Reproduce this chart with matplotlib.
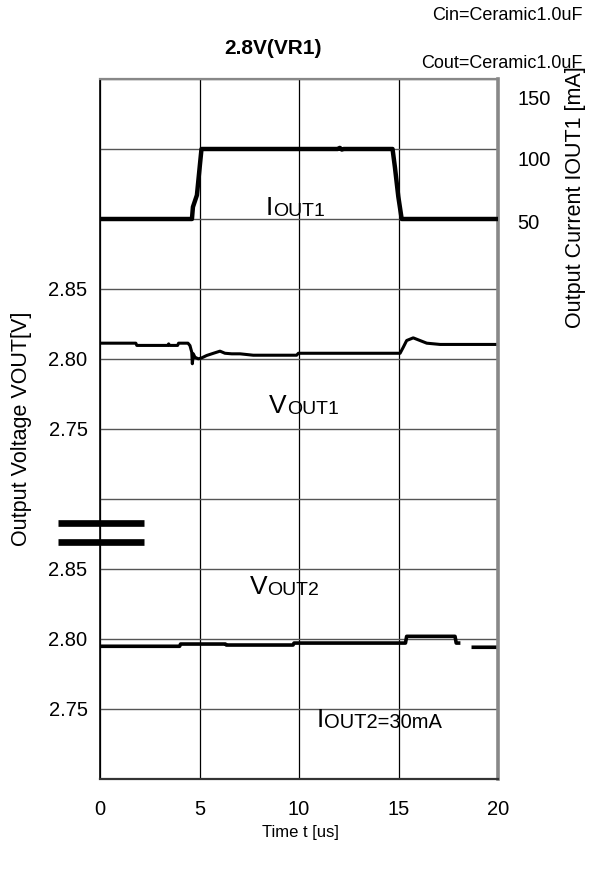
#!/usr/bin/env python3

import matplotlib

matplotlib.use("Agg")
import matplotlib.pyplot as plt
import matplotlib.transforms as mtransforms
import numpy as np

plt.rcParams["font.family"] = ["Liberation Sans", "DejaVu Sans"]

# time axis [us]
t_ticks = [0, 5, 10, 15, 20]

# IOUT1 load step [mA]
iout1_t = [0.0, 4.62, 4.67, 4.87, 5.03, 5.10, 11.95, 12.05, 12.15, 12.25, 14.70, 14.82, 14.99, 15.16, 20.0]
iout1_ma = [50, 50, 58.6, 67, 90, 100, 100, 100.8, 99.6, 100, 100, 87, 66, 50, 50]

# VOUT1 response [V]
vout1_t = [0.0, 1.80, 1.85, 3.40, 3.45, 3.50, 3.90, 3.95, 4.42, 4.52, 4.61, 4.64, 4.69, 4.77, 4.94,
           5.11, 5.36, 5.70, 6.03, 6.28, 6.62, 7.04, 7.70, 9.88, 9.97, 15.08, 15.24, 15.41,
           15.74, 16.08, 16.42, 17.09, 20.0]
vout1_v = [2.8113, 2.8113, 2.8097, 2.8097, 2.8108, 2.8097, 2.8097, 2.8113, 2.8113, 2.8096, 2.8049,
           2.7966, 2.8037, 2.8013, 2.8001, 2.8008, 2.8025, 2.8041, 2.8056, 2.8041, 2.8037,
           2.8037, 2.8027, 2.8027, 2.8041, 2.8041, 2.8084, 2.8132, 2.8151, 2.8132, 2.8113,
           2.8104, 2.8104]

# VOUT2 (IOUT2 fixed at 30mA) [V]
vout2_t = [0.0, 4.0, 4.05, 6.3, 6.35, 9.7, 9.75, 15.35, 15.41, 17.84, 17.90, 18.02, 18.02, 18.76, 20.0]
vout2_v = [2.7948, 2.7948, 2.7964, 2.7964, 2.7957, 2.7957, 2.7971, 2.7971, 2.8019, 2.8019,
           2.7971, 2.7971, np.nan, 2.7941, 2.7941]

vout_ticks = [2.75, 2.80, 2.85]
iout_ticks = [50, 100, 150]


def vout_div(v, centre):
    # 0.05V per division, 2.80V sits on the given grid division
    return centre + (np.asarray(v) - 2.80) / 0.05


fig = plt.figure(figsize=(5.89, 8.77), dpi=100)
ax = fig.add_axes([100 / 589, 1 - 779 / 877, 398 / 589, 700 / 877])
ax.set_xlim(0, 20)
ax.set_ylim(0, 10)

ax.set_xticks(t_ticks)
ax.set_xticklabels([str(v) for v in t_ticks])
ylabels = [""] * 11
for v in vout_ticks:
    ylabels[int(round(vout_div(v, 2)))] = f"{v:.2f}"
    ylabels[int(round(vout_div(v, 6)))] = f"{v:.2f}"
ax.set_yticks(range(11))
ax.set_yticklabels(ylabels)
ax.tick_params(axis="both", length=0, labelsize=14.5)
ax.tick_params(axis="x", pad=15)
ax.tick_params(axis="y", pad=9)

ax.grid(axis="x", color="black", lw=0.9)
ax.grid(axis="y", color="#555555", lw=1.0)
ax.set_axisbelow(True)

for side, col, lw in [("left", "black", 1.2), ("bottom", "#333333", 1.6),
                      ("right", "#888888", 2.6), ("top", "#888888", 1.6)]:
    ax.spines[side].set_color(col)
    ax.spines[side].set_linewidth(lw)

ax.plot(vout1_t, vout_div(vout1_v, 6), color="black", lw=2.2, solid_joinstyle="round")
ax.plot(vout2_t, vout_div(vout2_v, 2), color="black", lw=2.6, solid_joinstyle="round")

# right axis for IOUT1, 50mA per division
ax2 = ax.twinx()
ax2.set_ylim(-350, 150)
ax2.set_yticks(iout_ticks)
ax2.set_yticklabels([str(v) for v in iout_ticks])
ax2.tick_params(axis="y", length=0, labelsize=14.5, pad=14)
for s in ax2.spines.values():
    s.set_visible(False)
for lbl, dy in zip(ax2.get_yticklabels(), [-2, -6.5, -13]):
    lbl.set_transform(lbl.get_transform() + mtransforms.ScaledTranslation(0, dy / 72, fig.dpi_scale_trans))
ax2.plot(iout1_t, iout1_ma, color="black", lw=3.2, solid_joinstyle="round")

# axis break marks between the two voltage sections
for yb in (0.366, 0.339):
    ax.plot([-0.106, 0.111], [yb, yb], transform=ax.transAxes, color="black",
            lw=4.8, solid_capstyle="butt", clip_on=False)


def sub_label(x, y, big, rest, big_size, rest_size):
    t = ax.text(x, y, big, transform=fig.transFigure, fontsize=big_size, va="baseline", ha="left")
    ax.annotate(rest, xy=(1, 0), xycoords=t, fontsize=rest_size, va="bottom", ha="left")


sub_label(266 / 589, 1 - 215 / 877, "I", "OUT1", 19, 14)
sub_label(269 / 589, 1 - 413 / 877, "V", "OUT1", 19, 14)
sub_label(250 / 589, 1 - 594 / 877, "V", "OUT2", 19, 14)
sub_label(317 / 589, 1 - 727 / 877, "I", "OUT2=30mA", 19, 14.5)

fig.text(273 / 589, 1 - 48 / 877, "2.8V(VR1)", fontsize=15, fontweight="bold", ha="center", va="center")
fig.text(583 / 589, 1 - 15 / 877, "Cin=Ceramic1.0uF", fontsize=13, ha="right", va="center")
fig.text(583 / 589, 1 - 63 / 877, "Cout=Ceramic1.0uF", fontsize=13, ha="right", va="center")
fig.text(22 / 589, 1 - 429 / 877, "Output Voltage VOUT[V]", fontsize=15.5, rotation=90, ha="center", va="center")
fig.text(575 / 589, 1 - 197 / 877, "Output Current IOUT1 [mA]", fontsize=15.5, rotation=90, ha="center", va="center")
fig.text(300 / 589, 1 - 832 / 877, "Time t [us]", fontsize=12, ha="center", va="center")

fig.savefig("out.png", dpi=100)
